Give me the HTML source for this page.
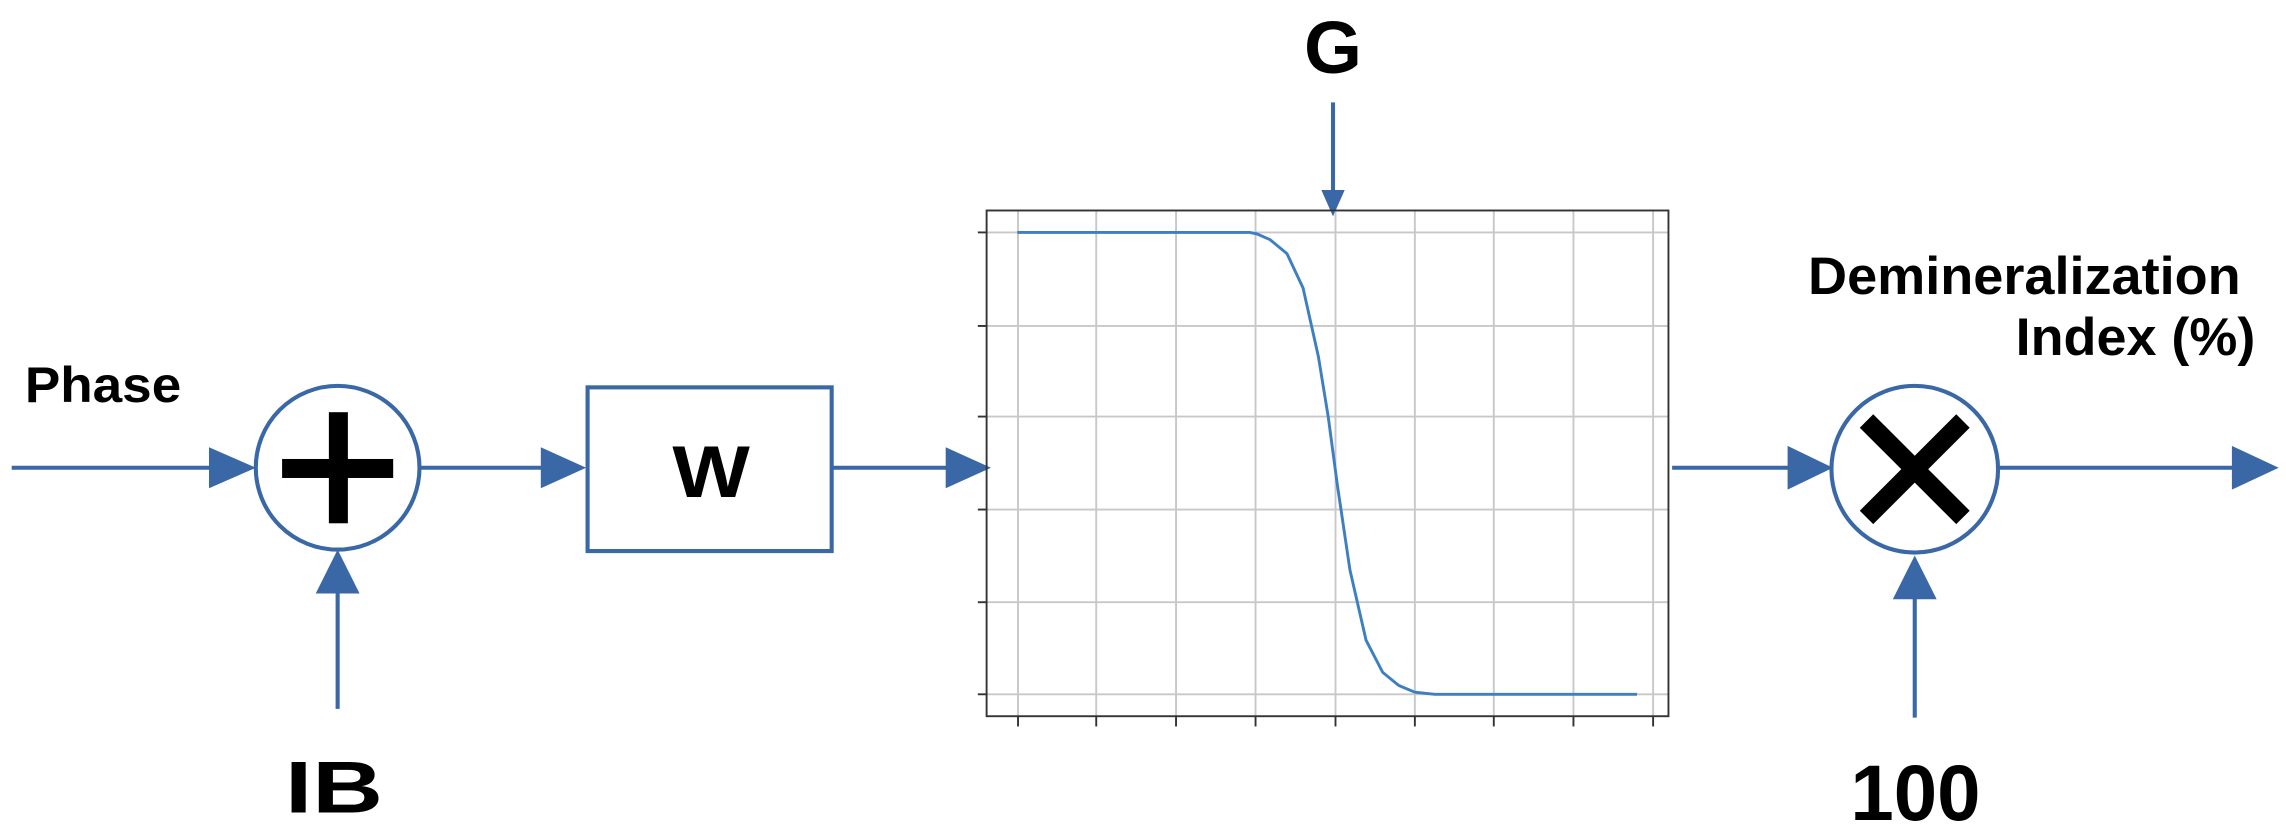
<!DOCTYPE html>
<html><head><style>html,body{margin:0;padding:0;background:#fff;width:2286px;height:832px;overflow:hidden}</style></head>
<body>
<svg width="2286" height="832" viewBox="0 0 1564 569.2" xmlns="http://www.w3.org/2000/svg" font-family="Liberation Sans, sans-serif" font-weight="bold">
<rect width="1564" height="570" fill="#fff"/>
<g stroke="#3a67a6" stroke-width="2.8" fill="none">
  <line x1="8" y1="320" x2="150" y2="320"/>
  <line x1="287" y1="320" x2="375" y2="320"/>
  <line x1="569" y1="320" x2="652" y2="320"/>
  <line x1="1144" y1="320" x2="1228" y2="320"/>
  <line x1="1367" y1="320" x2="1532" y2="320"/>
  <line x1="231" y1="485" x2="231" y2="400"/>
  <line x1="1310" y1="491" x2="1310" y2="405"/>
  <line x1="912" y1="70" x2="912" y2="132"/>
  <ellipse cx="231" cy="320" rx="56" ry="56"/>
  <circle cx="1310" cy="321" r="57"/>
  <rect x="402" y="265" width="167" height="112"/>
</g>
<g fill="#3a67a6">
  <polygon points="143,306 175,320 143,334"/>
  <polygon points="370,306 401,320 370,334"/>
  <polygon points="647,306 678,320 647,334"/>
  <polygon points="1223,305 1254,320 1223,335"/>
  <polygon points="1527,305 1559,320 1527,335"/>
  <polygon points="216,406 231,376 246,406"/>
  <polygon points="1295,410 1310,380 1325,410"/>
  <polygon points="904,130 912,148 920,130"/>
</g>
<!-- plus -->
<rect x="225" y="282" width="13" height="76" fill="#000"/>
<rect x="193" y="314" width="76" height="13" fill="#000"/>
<!-- times -->
<g stroke="#000" stroke-width="13">
  <line x1="1277" y1="288" x2="1343" y2="354"/>
  <line x1="1343" y1="288" x2="1277" y2="354"/>
</g>
<!-- plot -->
<g stroke="#c8c8c8" stroke-width="1.3">
  <line x1="696.5" y1="144" x2="696.5" y2="490"/>
  <line x1="750" y1="144" x2="750" y2="490"/>
  <line x1="804.6" y1="144" x2="804.6" y2="490"/>
  <line x1="859" y1="144" x2="859" y2="490"/>
  <line x1="913.7" y1="144" x2="913.7" y2="490"/>
  <line x1="968" y1="144" x2="968" y2="490"/>
  <line x1="1022" y1="144" x2="1022" y2="490"/>
  <line x1="1076.5" y1="144" x2="1076.5" y2="490"/>
  <line x1="1131" y1="144" x2="1131" y2="490"/>
  <line x1="675" y1="159" x2="1141" y2="159"/>
  <line x1="675" y1="223" x2="1141" y2="223"/>
  <line x1="675" y1="285" x2="1141" y2="285"/>
  <line x1="675" y1="348.6" x2="1141" y2="348.6"/>
  <line x1="675" y1="412" x2="1141" y2="412"/>
  <line x1="675" y1="475" x2="1141" y2="475"/>
</g>
<g stroke="#333" stroke-width="1.3">
  <rect x="675" y="144" width="466.5" height="346" fill="none"/>
  <line x1="669" y1="159" x2="675" y2="159"/>
  <line x1="669" y1="223" x2="675" y2="223"/>
  <line x1="669" y1="285" x2="675" y2="285"/>
  <line x1="669" y1="348.6" x2="675" y2="348.6"/>
  <line x1="669" y1="412" x2="675" y2="412"/>
  <line x1="669" y1="475" x2="675" y2="475"/>
  <line x1="696.5" y1="490" x2="696.5" y2="497"/>
  <line x1="750" y1="490" x2="750" y2="497"/>
  <line x1="804.6" y1="490" x2="804.6" y2="497"/>
  <line x1="859" y1="490" x2="859" y2="497"/>
  <line x1="913.7" y1="490" x2="913.7" y2="497"/>
  <line x1="968" y1="490" x2="968" y2="497"/>
  <line x1="1022" y1="490" x2="1022" y2="497"/>
  <line x1="1076.5" y1="490" x2="1076.5" y2="497"/>
  <line x1="1131" y1="490" x2="1131" y2="497"/>
</g>
<polyline fill="none" stroke="#3d7fc0" stroke-width="2" points="696,159 855,159 860,160 869,164 880.5,173.5 891.5,197 902,244 908.7,285 915,332 923.6,390 934.6,438 946,460 957,469 968,473.6 981.7,475 1120,475"/>
<!-- text -->
<text x="17" y="275" font-size="34" textLength="107" lengthAdjust="spacingAndGlyphs">Phase</text>
<text x="195" y="556" font-size="50" textLength="67" lengthAdjust="spacingAndGlyphs">IB</text>
<text x="460" y="340" font-size="50" textLength="53" lengthAdjust="spacingAndGlyphs">W</text>
<text x="912" y="50" font-size="51" text-anchor="middle">G</text>
<text x="1237" y="201" font-size="36" textLength="296" lengthAdjust="spacingAndGlyphs">Demineralization</text>
<text x="1379" y="243" font-size="36" textLength="164" lengthAdjust="spacingAndGlyphs">Index (%)</text>
<text x="1266" y="561" font-size="54" textLength="89" lengthAdjust="spacingAndGlyphs">100</text>
</svg>
</body></html>
